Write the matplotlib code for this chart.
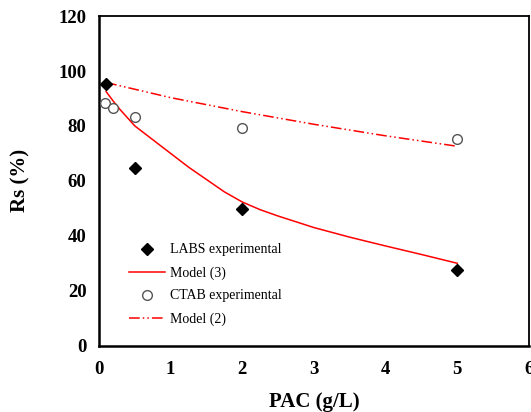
import matplotlib
matplotlib.use("Agg")
import matplotlib.pyplot as plt

# Дані
labs_x = [0.1, 0.5, 2, 5]
labs_y = [95.3, 64.8, 49.7, 27.5]

ctab_x = [0.08, 0.2, 0.5, 2, 5]
ctab_y = [88.5, 86.7, 83.4, 79.4, 75.4]

model3_x = [0.1, 0.2, 0.3, 0.5, 0.75, 1, 1.25, 1.5, 1.75, 2, 2.25, 2.5,
            3, 3.5, 4, 4.5, 5]
model3_y = [92.5, 89.0, 85.8, 80.0, 75.0, 70.0, 65.0, 60.5, 56.0, 52.3,
            49.5, 47.2, 43.0, 39.5, 36.3, 33.2, 30.0]

model2_x = [0.1, 1, 2, 3, 4, 5]
model2_y = [95.8, 90.3, 85.2, 80.6, 76.4, 72.6]

x_ticks = [0, 1, 2, 3, 4, 5, 6]
y_ticks = [0, 20, 40, 60, 80, 100, 120]

plt.rcParams["font.family"] = ["Liberation Serif", "DejaVu Serif"]

fig = plt.figure(figsize=(5.31, 4.12), dpi=100)
ax = fig.add_axes([0.1864, 0.161, 0.8096, 0.8])

ax.plot(labs_x, labs_y, linestyle="none", marker="D", color="black",
        markersize=6.5, label="LABS experimental", zorder=4)
ax.plot(model3_x, model3_y, color="red", linewidth=1.1, label="Model (3)",
        zorder=3)
ax.plot(ctab_x, ctab_y, linestyle="none", marker="o", markerfacecolor="white",
        markeredgecolor="#555555", markeredgewidth=1.0, markersize=7,
        label="CTAB experimental", zorder=4)
ax.plot(model2_x, model2_y, color="red", linewidth=1.1,
        dashes=[7, 2, 1, 2, 1, 2], label="Model (2)", zorder=3)

ax.set_xlim(0, 6)
ax.set_ylim(0, 120)
ax.set_xticks(x_ticks)
ax.set_yticks(y_ticks)
ax.tick_params(length=0, labelsize=13.5)
ax.tick_params(axis="y", pad=9)
ax.tick_params(axis="x", pad=11)
for lab in ax.get_xticklabels() + ax.get_yticklabels():
    lab.set_fontweight("bold")

for side in ["left", "bottom"]:
    ax.spines[side].set_linewidth(1.8)
for side in ["top", "right"]:
    ax.spines[side].set_linewidth(1.3)

ax.set_xlabel("PAC (g/L)", fontsize=15, fontweight="bold", labelpad=10)
ax.set_ylabel("Rs (%)", fontsize=15, fontweight="bold", labelpad=20)

ax.legend(loc="lower left", bbox_to_anchor=(0.04, 0.023), frameon=False,
          fontsize=10, handlelength=2.6, handletextpad=0.4, labelspacing=0.7)

fig.savefig("out.png", dpi=100)
